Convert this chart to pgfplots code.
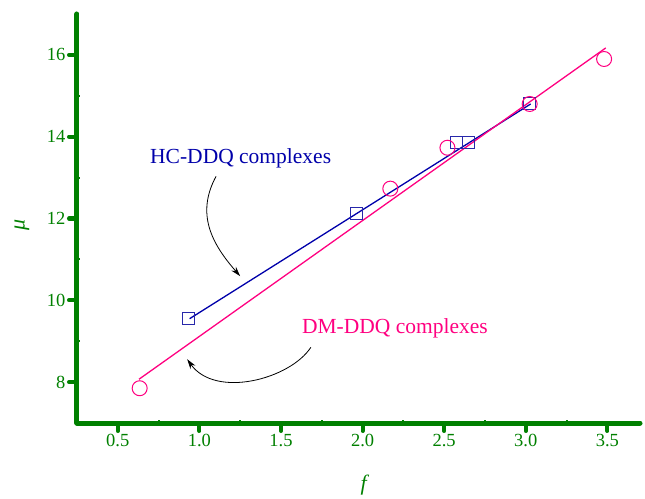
\documentclass[border=0pt]{standalone}
\usepackage{pgfplots}
\pgfplotsset{compat=1.18}
\usepackage{fontspec}
\setmainfont{Liberation Serif}
\usetikzlibrary{arrows.meta}
\definecolor{ggreen}{RGB}{0,128,0}
\definecolor{hcblue}{RGB}{0,0,170}
\definecolor{dmpink}{RGB}{255,0,128}
\definecolor{sqblue}{RGB}{40,40,170}
\begin{document}
\begin{tikzpicture}
\begin{axis}[
  scale only axis, width=563pt, height=409pt,
  xmin=0.25, xmax=3.7, ymin=7, ymax=17,
  axis x line*=bottom, axis y line*=left,
  axis line style={ggreen, line width=5pt, line cap=round, -},
  xtick={0.5,1,...,3.5}, ytick={8,10,...,16},
  minor x tick num=1, minor y tick num=1,
  tick align=outside,
  major tick length=8pt, minor tick length=-3pt,
  major tick style={ggreen, line width=4pt, line cap=round},
  minor tick style={ggreen, line width=2pt},
  /pgf/number format/assume math mode=true,
  xticklabel={\pgfmathprintnumber[fixed,fixed zerofill,precision=1,assume math mode=true]{\tick}},
  ticklabel style={ggreen, font=\fontsize{18.5}{20}\selectfont},
  xlabel={\textit{f}}, ylabel={\textit{μ}},
  label style={ggreen, font=\fontsize{22}{24}\selectfont},
  xlabel style={at={(axis description cs:0.5115,-0.1516)}, anchor=center},
  ylabel style={at={(axis description cs:-0.0977,0.484)}, anchor=center},
  clip=false,
]
\coordinate (bl) at (rel axis cs:0,0);
\addplot[hcblue, line width=1.3pt] coordinates {(0.94,9.55) (3.03,14.80)};
\addplot[dmpink, line width=1.3pt] coordinates {(0.63,8.07) (3.49,16.17)};
\addplot[only marks, mark=square, mark size=6pt, sqblue, mark options={line width=1pt}] coordinates {
(0.935,9.56) (1.965,12.12) (2.573,13.85) (2.646,13.85) (3.024,14.80)};
\addplot[only marks, mark=o, mark size=7.5pt, dmpink, mark options={line width=1pt}] coordinates {
(0.634,7.85) (2.170,12.73) (2.520,13.73) (3.024,14.80) (3.480,15.90)};
\node[hcblue, font=\fontsize{21.5}{23}\selectfont] at (axis cs:1.253,13.48) {HC-DDQ complexes};
\node[dmpink, font=\fontsize{21.5}{23}\selectfont] at (axis cs:2.198,9.32) {DM-DDQ complexes};
\draw[black, line width=0.8pt, -{Stealth[length=10pt,width=6pt]}] (axis cs:1.102,13.03) .. controls (axis cs:0.976,12.10) and (axis cs:1.079,11.37) .. (axis cs:1.25,10.59);
\draw[black, line width=0.8pt, -{Stealth[length=10pt,width=6pt]}] (axis cs:1.683,8.85) .. controls (axis cs:1.555,8.07) and (axis cs:1.098,7.59) .. (axis cs:0.925,8.56);
\end{axis}
\pgfresetboundingbox
\path (bl) ++(-77pt,-75pt) rectangle ++(645pt,498pt);
\end{tikzpicture}
\end{document}
